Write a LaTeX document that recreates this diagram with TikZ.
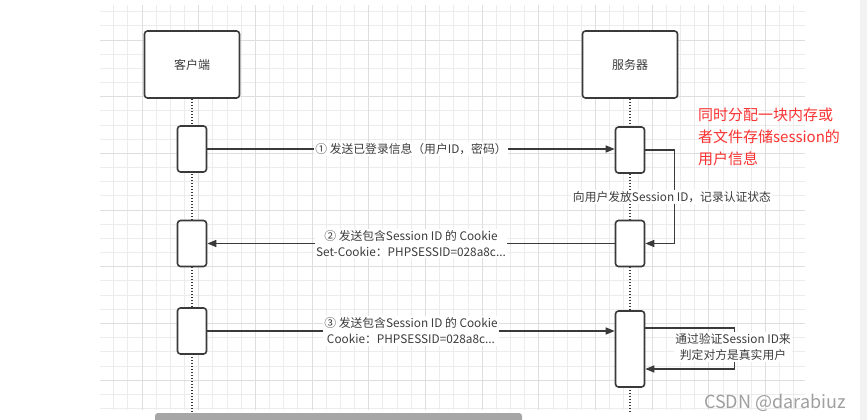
\documentclass[tikz,border=0pt]{standalone}
\usepackage{fontspec}
\newfontfamily\cjk{Noto Sans CJK SC}
\usetikzlibrary{arrows.meta,positioning,calc}
\definecolor{lnclr}{RGB}{58,58,58}
\definecolor{txtclr}{RGB}{60,60,60}
\definecolor{notered}{RGB}{250,50,50}
\definecolor{gridmin}{RGB}{236,236,236}
\definecolor{gridmaj}{RGB}{222,222,222}
\tikzset{
  hdrblk/.style={draw=lnclr,fill=white,rectangle,rounded corners=3pt,line width=1.6pt,minimum width=95pt,minimum height=67pt,font=\cjk\fontsize{12}{14}\selectfont,text=txtclr},
  actblk/.style={draw=lnclr,fill=white,rectangle,rounded corners=3pt,line width=1.6pt,minimum width=29pt,minimum height=46pt,inner sep=0pt},
  lifeln/.style={lnclr,line width=1.5pt,dash pattern=on 1.4pt off 1.6pt},
  msg/.style={lnclr,line width=1.4pt,-{Triangle[length=9pt,width=7pt]}},
  msgtxt/.style={fill=white,inner sep=1.5pt,font=\cjk\fontsize{11.8}{16}\selectfont,text=txtclr,align=center},
  notetxt/.style={text=notered,font=\cjk\fontsize{15}{22}\selectfont,align=left,inner sep=0pt},
  wmark/.style={text=gray!75,font=\cjk\fontsize{18}{20}\selectfont,inner sep=0pt}
}
\begin{document}
\begin{tikzpicture}[x=1pt,y=-1pt]
  \useasboundingbox (0,0) rectangle (867,420);
  \fill[white] (0,0) rectangle (867,420);
  \fill[black!5] (860,0) rectangle (867,420);

  % Grid paper
  \foreach \k in {-2,...,26} \draw[gridmin,line width=0.8pt] (100,{40+14.17*\k}) -- (805,{40+14.17*\k});
  \foreach \k in {-2,...,46} \draw[gridmin,line width=0.8pt] ({142+14.17*\k},5) -- ({142+14.17*\k},410);
  \foreach \k in {0,4,...,24} \draw[gridmaj,line width=0.8pt] (100,{40+14.17*\k}) -- (805,{40+14.17*\k});
  \foreach \k in {0,4,...,44} \draw[gridmaj,line width=0.8pt] ({142+14.17*\k},5) -- ({142+14.17*\k},410);

  % Participants
  \node[hdrblk] (client) at (192,64.5) {客户端};
  \node[hdrblk] (server) at (630,64.5) {服务器};
  \coordinate (bot) at (0,412);

  % Lifelines
  \draw[lifeln] (client.south) -- (client.south |- bot);
  \draw[lifeln] (server.south) -- (server.south |- bot);

  % Activations
  \node[actblk] (cact1) at (192,149) {};
  \node[actblk] (sact1) at (630,150) {};
  \node[actblk] (cact2) at (192,243.5) {};
  \node[actblk] (sact2) at (630,243.5) {};
  \node[actblk] (cact3) at (192,331) {};
  \node[actblk, minimum height=76pt] (sact3) at (630,349) {};

  % Messages
  \draw[msg] (cact1.east) -- (cact1.east -| sact1.west)
    node[msgtxt,midway] {① 发送已登录信息（用户ID，密码）};
  \draw[msg] (sact2.west) -- (sact2.west -| cact2.east)
    node[msgtxt,midway] {② 发送包含Session ID 的 Cookie\\Set-Cookie：PHPSESSID=028a8c...};
  \draw[msg] (cact3.east) -- (cact3.east -| sact3.west)
    node[msgtxt,midway] {③ 发送包含Session ID 的 Cookie\\Cookie：PHPSESSID=028a8c...};

  % Self calls on the server
  \draw[msg] (sact1.east) -- ++(29,0) |- (sact2.east);
  \node[msgtxt] (issue) at (672,197) {向用户发放Session ID，记录认证状态};
  \draw[msg] ([yshift=21pt]sact3.east) -- ++(89,0) |- ([yshift=-20pt]sact3.east);
  \node[msgtxt] (verify) at (733,347) {通过验证Session ID来\\判定对方是真实用户};

  % Note and watermark
  \node[notetxt, anchor=north west] (note) at (698,108) {同时分配一块内存或\\者文件存储session的\\用户信息};
  \node[wmark] (csdn) at (775,403) {CSDN @darabiuz};

  % Scroll bar
  \fill[gray!70,rounded corners=3pt] (155,413) rectangle (522,426);
\end{tikzpicture}
\end{document}
